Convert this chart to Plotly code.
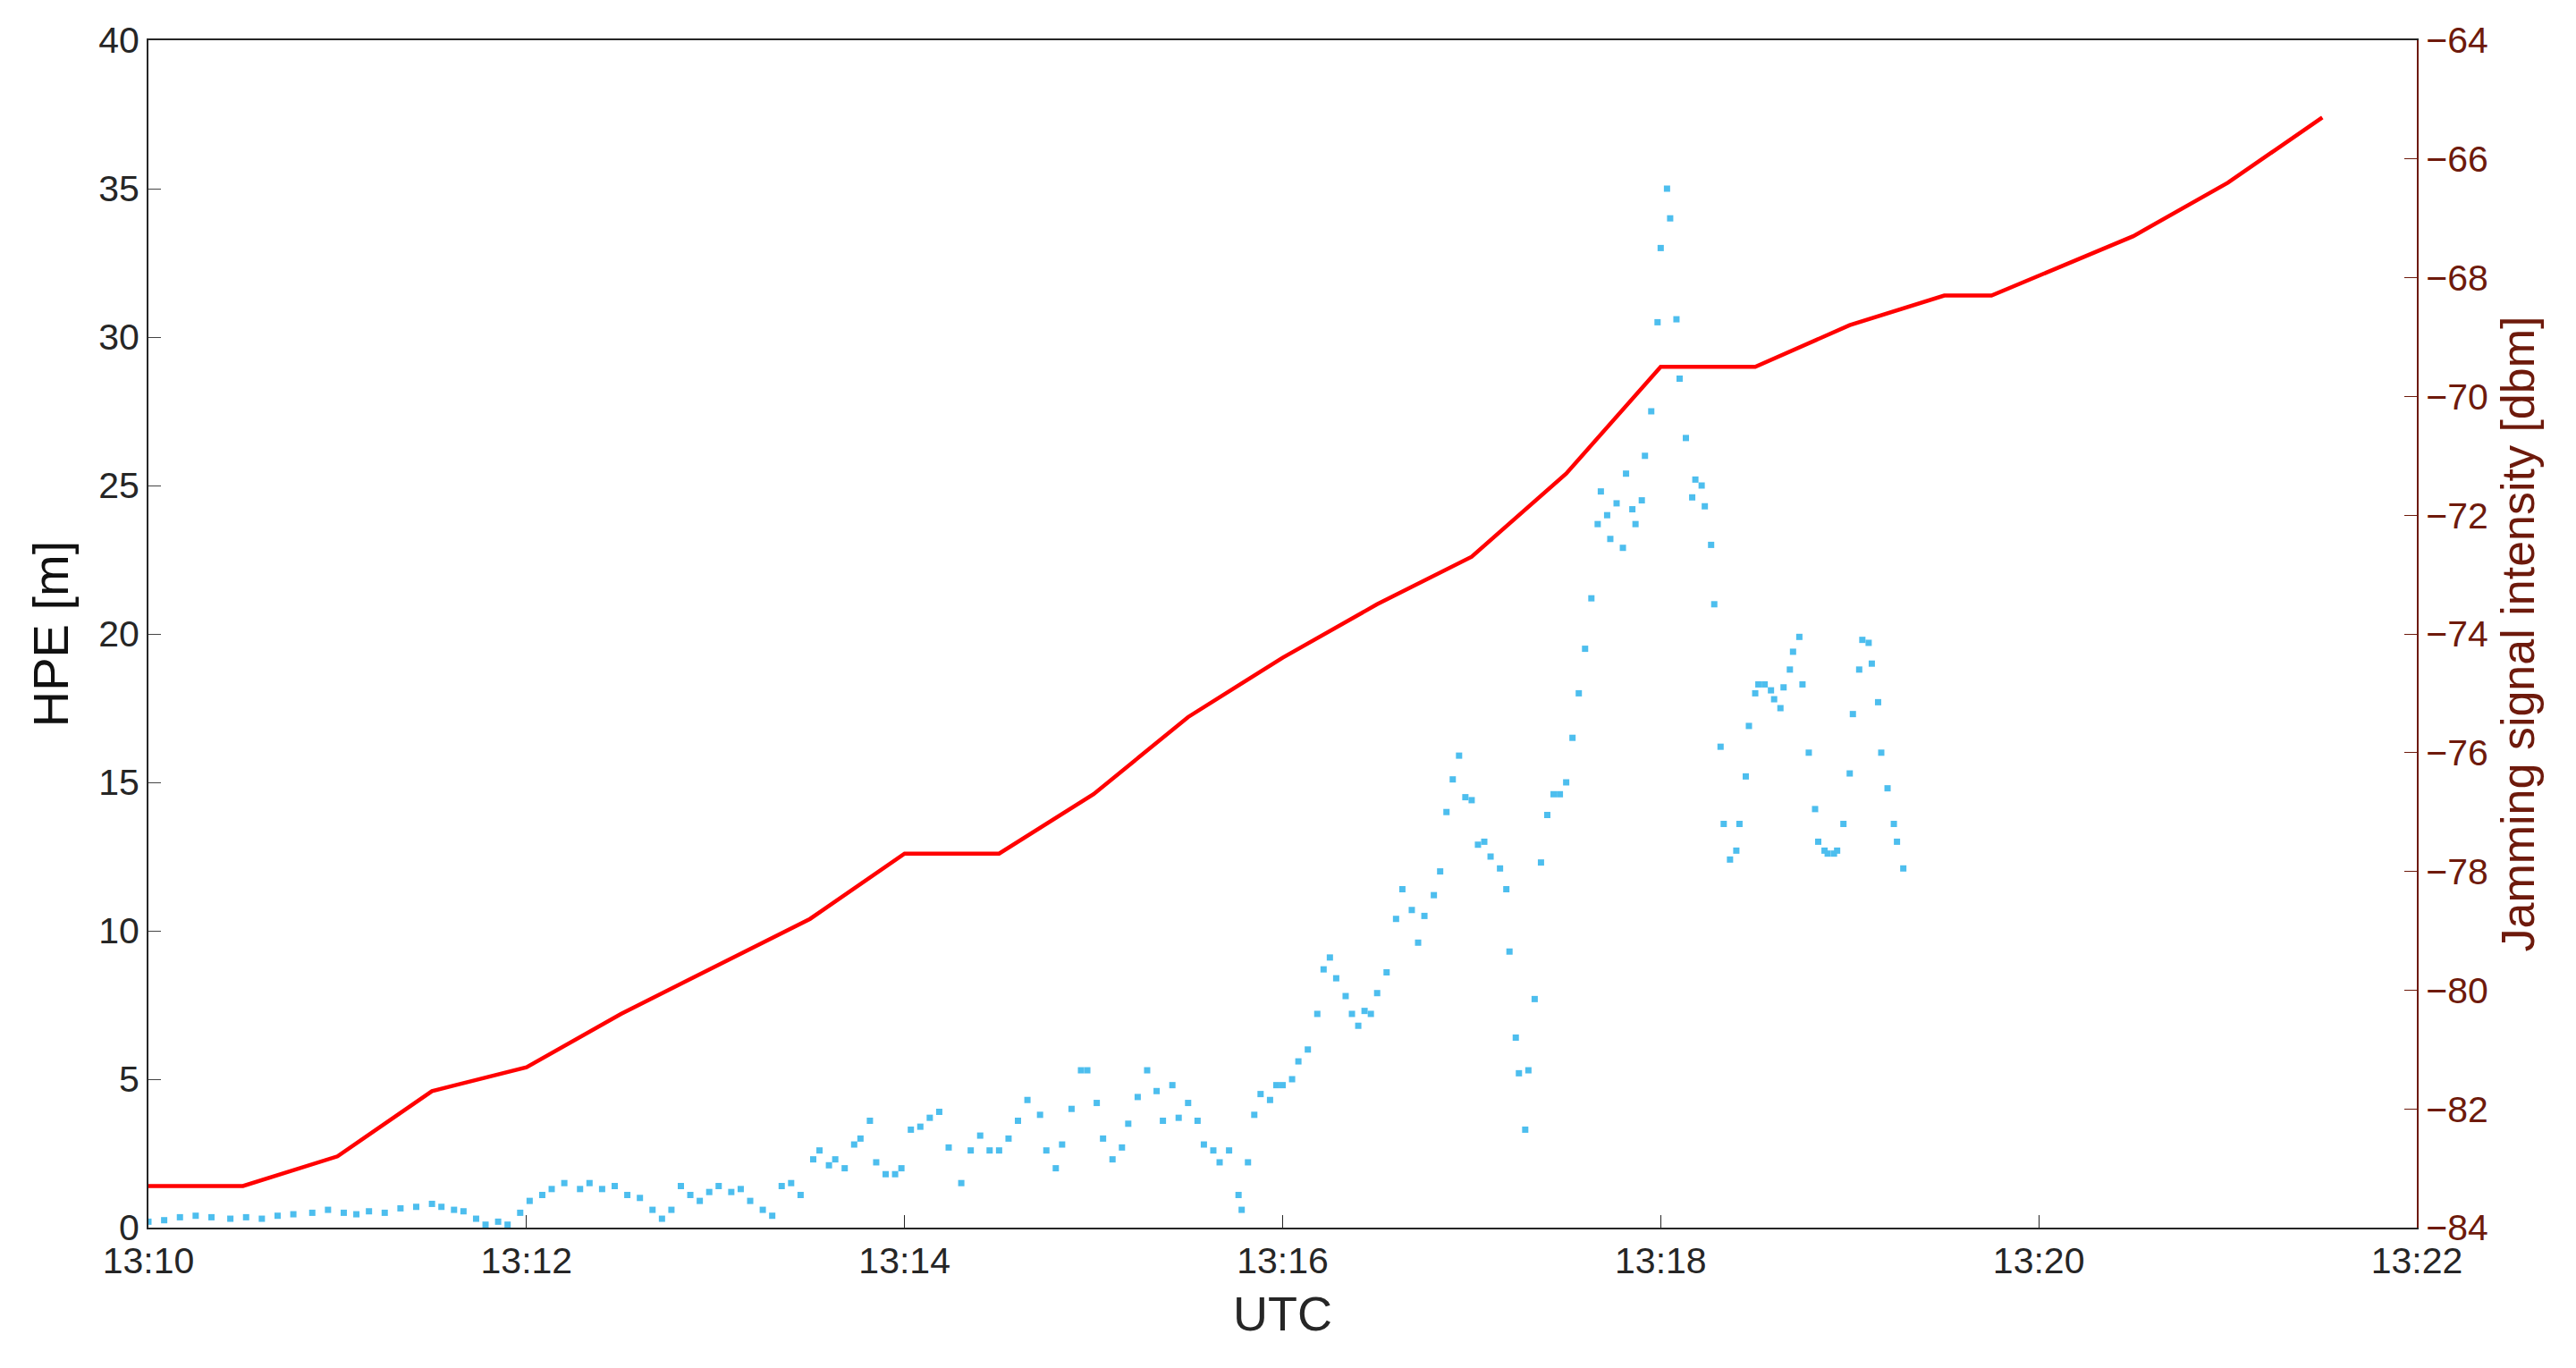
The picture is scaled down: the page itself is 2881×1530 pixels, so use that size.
import plotly.graph_objects as go
import datetime as dt

jam_sec = [0, 30, 60, 90, 120, 150, 210, 240, 270, 300, 330, 360, 390, 420, 450, 480, 510, 540, 570, 585, 630, 660, 690]
jam_dbm = [-83.3, -83.3, -82.8, -81.7, -81.3, -80.4, -78.8, -77.7, -77.7, -76.7, -75.4, -74.4, -73.5, -72.7,
           -71.3, -69.5, -69.5, -68.8, -68.3, -68.3, -67.3, -66.4, -65.3]

hpe_sec = [0,5,10,15,20,26,31,36,41,46,52,57,62,66,70,75,80,85,90,93,97,100,104,107,111,114,118,121,125,128,
           132,137,140,144,148,152,156,160,163,166,169,172,175,178,181,185,188,191,195,198,201,204,207,211,213,
           216,218,221,224,226,229,231,234,237,239,242,245,248,251,254,258,261,264,267,270,273,276,279,283,285,
           288,290,293,296,298,301,303,306,309,311,314,317,320,322,325,327,330,333,335,338,340,343,346,347,349,
           351,353,356,358,360,363,365,368,371,373,375,377,380,382,384,386,388,390,393,396,398,401,403,405,408,
           410,412,414,416,418,420,422,424,426,429,431,432,434,435,437,438,440,442,444,446,448,450,452,454,456,
           458,460,461,463,464,466,468,469,471,472,474,475,477,479,480,482,483,485,486,488,490,491,493,494,496,
           497,499,500,502,504,505,507,508,510,511,513,515,516,518,519,521,522,524,525,527,529,530,532,533,535,
           536,538,540,541,543,544,546,547,549,550,552,554,555,557]
hpe_m = [0.2,0.25,0.35,0.4,0.35,0.3,0.35,0.3,0.4,0.45,0.5,0.6,0.5,0.45,0.55,0.5,0.65,0.7,0.8,0.7,0.6,0.55,0.3,
         0.1,0.2,0.1,0.5,0.9,1.1,1.3,1.5,1.3,1.5,1.3,1.4,1.1,1.0,0.6,0.3,0.6,1.4,1.1,0.9,1.2,1.4,1.2,1.3,0.9,
         0.6,0.4,1.4,1.5,1.1,2.3,2.6,2.1,2.3,2.0,2.8,3.0,3.6,2.2,1.8,1.8,2.0,3.3,3.4,3.7,3.9,2.7,1.5,2.6,3.1,
         2.6,2.6,3.0,3.6,4.3,3.8,2.6,2.0,2.8,4.0,5.3,5.3,4.2,3.0,2.3,2.7,3.5,4.4,5.3,4.6,3.6,4.8,3.7,4.2,3.6,
         2.8,2.6,2.2,2.6,1.1,0.6,2.2,3.8,4.5,4.3,4.8,4.8,5.0,5.6,6.0,7.2,8.7,9.1,8.4,7.8,7.2,6.8,7.3,7.2,7.9,
         8.6,10.4,11.4,10.7,9.6,10.5,11.2,12.0,14.0,15.1,15.9,14.5,14.4,12.9,13.0,12.5,12.1,11.4,9.3,6.4,5.2,
         3.3,5.3,7.7,12.3,13.9,14.6,14.6,15.0,16.5,18.0,19.5,21.2,23.7,24.8,24.0,23.2,24.4,22.9,25.4,24.2,23.7,
         24.5,26.0,27.5,30.5,33.0,35.0,34.0,30.6,28.6,26.6,24.6,25.2,25.0,24.3,23.0,21.0,16.2,13.6,12.4,12.7,
         13.6,15.2,16.9,18.0,18.3,18.3,18.1,17.8,17.5,18.2,18.8,19.4,19.9,18.3,16.0,14.1,13.0,12.7,12.6,12.6,
         12.7,13.6,15.3,17.3,18.8,19.8,19.7,19.0,17.7,16.0,14.8,13.6,13.0,12.1]

base = dt.datetime(2024, 1, 1, 13, 10, 0)
tx = lambda secs: [base + dt.timedelta(seconds=s) for s in secs]

dark_red = "#6e1a0c"
fig = go.Figure()
fig.add_trace(go.Scatter(x=tx(hpe_sec), y=hpe_m, mode="markers",
                         marker=dict(size=7, color="#4dbeee", symbol="square"), showlegend=False))
fig.add_trace(go.Scatter(x=tx(jam_sec), y=jam_dbm, mode="lines", yaxis="y2",
                         line=dict(color="#ff0000", width=4.5), showlegend=False))

font = dict(family="Liberation Sans, Arial", size=41, color="#262626")
fig.update_layout(
    width=2881, height=1530, plot_bgcolor="white", paper_bgcolor="white",
    margin=dict(l=158, r=186, t=37, b=165),
    font=font,
    xaxis=dict(range=[base, base + dt.timedelta(minutes=12)], dtick=120000, tickformat="%H:%M",
               showgrid=False, showline=True, linecolor="#262626", linewidth=2, mirror=True,
               ticks="inside", ticklen=14, tickcolor="#262626",
               title=dict(text="UTC", font=dict(size=54, color="#262626"), standoff=18)),
    yaxis=dict(range=[0, 40], dtick=5, showgrid=False, zeroline=False, showline=True,
               linecolor="#262626", linewidth=2, ticks="inside", ticklen=14,
               title=dict(text="HPE [m]", font=dict(size=56, color="#111111"), standoff=16)),
    yaxis2=dict(range=[-84, -64], dtick=2, overlaying="y", side="right", showgrid=False,
                zeroline=False, showline=True, linecolor=dark_red, linewidth=2, ticks="inside",
                ticklen=14, tickcolor=dark_red, tickfont=dict(color=dark_red, size=41),
                title=dict(text="Jamming signal intensity [dbm]", font=dict(size=52, color=dark_red), standoff=16)),
)
fig.write_html("out.html")
